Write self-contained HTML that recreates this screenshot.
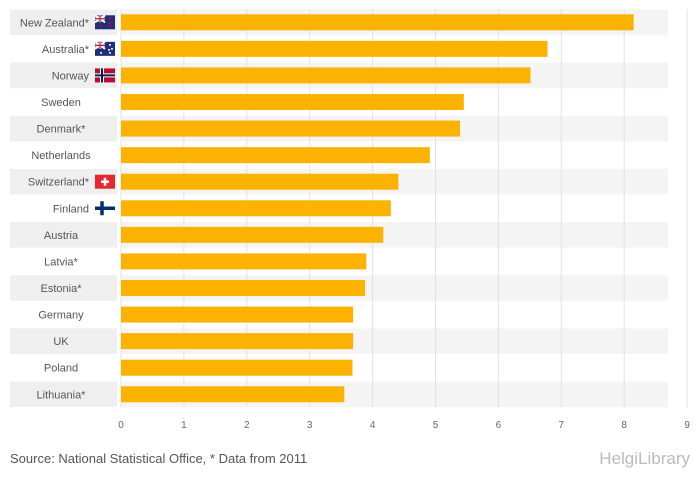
<!DOCTYPE html>
<html><head><meta charset="utf-8"><style>
body{margin:0;background:#fff;font-family:"Liberation Sans","DejaVu Sans",sans-serif;overflow:hidden;}
svg{display:block;}
svg text{font-family:"Liberation Sans","DejaVu Sans",sans-serif;}
</style></head><body>
<svg id="chart" width="700" height="483">
<g id="bg"></g><g id="grid"></g><g id="bars"></g><g id="labels"></g><g id="ticks"></g>
<text x="10" y="463" font-size="13" fill="#555">Source: National Statistical Office, * Data from 2011</text>
<text x="690" y="464" font-size="17" fill="#bbb" text-anchor="end">HelgiLibrary</text>
</svg>
<script>
const categories=["New Zealand*","Australia*","Norway","Sweden","Denmark*","Netherlands","Switzerland*","Finland","Austria","Latvia*","Estonia*","Germany","UK","Poland","Lithuania*"];
const values=[8.15,6.78,6.51,5.45,5.39,4.91,4.41,4.29,4.17,3.90,3.88,3.69,3.69,3.68,3.55];
const tickLabels=[0,1,2,3,4,5,6,7,8,9];
const flags=["nz","au","no","","","","ch","fi","","","","","","",""];
const NS="http://www.w3.org/2000/svg";
const x0=121,unit=62.9,plotTop=9,rowH=26.57;
const xs=v=>x0+v*unit, ys=i=>plotTop+i*rowH;
function mk(t,a,p){const e=document.createElementNS(NS,t);for(const k in a)e.setAttribute(k,a[k]);p.appendChild(e);return e;}
const bg=document.getElementById('bg'),grid=document.getElementById('grid'),bars=document.getElementById('bars'),labels=document.getElementById('labels'),ticks=document.getElementById('ticks');
categories.forEach((c,i)=>{
 if(i%2==0){
  const r=mk('rect',{x:10,y:ys(i)+0.5,width:107,height:rowH-1,fill:'#efefef'},bg);
  
  const r2=mk('rect',{x:121,y:ys(i)+0.5,width:547,height:rowH-1,fill:'#f4f4f4'},bg);
  
 }
});
tickLabels.forEach(t=>{
 const l=mk('line',{x1:xs(t),x2:xs(t),y1:plotTop,y2:plotTop+15*rowH,stroke:'#e2e2e2','stroke-width':1},grid);
 
 const tx=mk('text',{x:xs(t),y:428,'font-size':10,fill:'#666','text-anchor':'middle'},ticks);
 tx.textContent=t;
 
});
function flag(kind,x,y,p){
 const g=mk('g',{transform:`translate(${x},${y})`},p);
 
 const w=20,h=14;
 if(kind=='nz'||kind=='au'){
  mk('rect',{width:w,height:h,fill:'#1f2f7a'},g);
  mk('path',{d:'M0 0L10 7M10 0L0 7',stroke:'#fff','stroke-width':2},g);
  mk('path',{d:'M5 0V7M0 3.5H10',stroke:'#fff','stroke-width':2.5},g);
  mk('path',{d:'M5 0V7M0 3.5H10',stroke:'#c8102e','stroke-width':1.2},g);
  const st=kind=='nz'?'#c8102e':'#fff';
  [[15,3],[17,7],[14,8],[15,11],[6,11]].forEach(p=>mk('circle',{cx:p[0],cy:p[1],r:1,fill:st},g));
 }else if(kind=='no'||kind=='dk'){
  mk('rect',{width:w,height:h,fill:'#ba0c2f'},g);
  mk('path',{d:'M7 0V14M0 7H20',stroke:'#fff','stroke-width':4},g);
  if(kind=='no')mk('path',{d:'M7 0V14M0 7H20',stroke:'#00205b','stroke-width':2},g);
 }else if(kind=='ch'){
  mk('rect',{width:w,height:h,fill:'#e8262e'},g);
  mk('path',{d:'M10 3V11M6 7H14',stroke:'#fff','stroke-width':2.5},g);
 }else if(kind=='fi'){
  mk('rect',{width:w,height:h,fill:'#fff'},g);
  mk('path',{d:'M7 0V14M0 7H20',stroke:'#002f6c','stroke-width':3.5},g);
 }
}
categories.forEach((c,i)=>{
 const cy=ys(i)+rowH/2;
 const b=mk('rect',{x:x0,y:cy-8,width:xs(values[i])-x0,height:16,fill:'#fbb200'},bars);
 
 
 const hasFlag=flags[i]!=='';
 const t=mk('text',{x:hasFlag?89:61,y:cy+4,'font-size':11,fill:'#555','text-anchor':hasFlag?'end':'middle'},labels);
 t.textContent=c;
 
 
 if(hasFlag)flag(flags[i],95,cy-7,labels);
});
</script>
</body></html>
